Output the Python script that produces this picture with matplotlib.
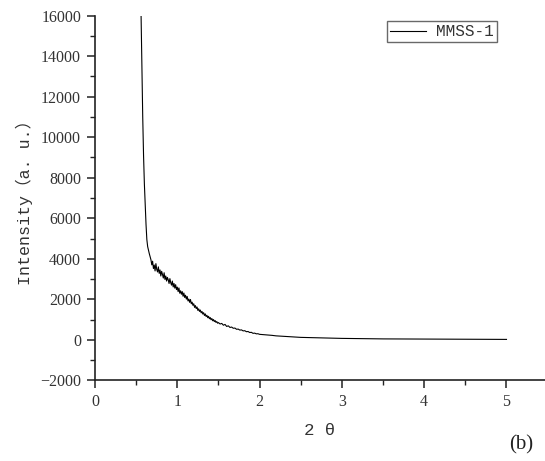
"""Small-angle XRD pattern of MMSS-1, panel (b)."""

import matplotlib

matplotlib.use("Agg")

import matplotlib.pyplot as plt  # noqa: E402
from matplotlib.ticker import MultipleLocator  # noqa: E402

# 2theta (deg) and intensity (a.u.)
two_theta = [
    0.56, 0.57, 0.58, 0.59, 0.60, 0.61, 0.62, 0.63, 0.64, 0.66,
    0.68, 0.69, 0.70, 0.71, 0.72, 0.73, 0.74, 0.75, 0.76, 0.77,
    0.78, 0.79, 0.80, 0.81, 0.82, 0.83, 0.84, 0.85, 0.86, 0.87,
    0.88, 0.89, 0.90, 0.91, 0.92, 0.93, 0.94, 0.95, 0.96, 0.97,
    0.98, 0.99, 1.00, 1.01, 1.02, 1.03, 1.04, 1.05, 1.06, 1.07,
    1.08, 1.09, 1.10, 1.11, 1.12, 1.13, 1.14, 1.15, 1.16, 1.17,
    1.18, 1.19, 1.20, 1.21, 1.22, 1.23, 1.24, 1.25, 1.26, 1.27,
    1.28, 1.29, 1.30, 1.31, 1.32, 1.33, 1.34, 1.35, 1.36, 1.37,
    1.38, 1.39, 1.40, 1.41, 1.42, 1.43, 1.44, 1.45, 1.46, 1.47,
    1.48, 1.49, 1.50, 1.52, 1.54, 1.56, 1.58, 1.60, 1.62, 1.64,
    1.66, 1.68, 1.70, 1.72, 1.74, 1.76, 1.78, 1.80, 1.82, 1.84,
    1.86, 1.88, 1.90, 1.92, 1.94, 1.96, 1.98, 2.00, 2.05, 2.10,
    2.15, 2.20, 2.30, 2.40, 2.50, 2.60, 2.70, 2.80, 3.00, 3.20,
    3.50, 4.00, 4.50, 5.00,
]
intensity = [
    16000, 13400, 11000, 9100, 7700, 6700, 5700, 4950, 4600, 4250,
    3950, 3700, 3880, 3520, 3690, 3400, 3760, 3480, 3350, 3600,
    3280, 3450, 3150, 3380, 3230, 3050, 3310, 2980, 3150, 2900,
    3080, 2960, 2780, 3020, 2820, 2700, 2900, 2610, 2780, 2550,
    2720, 2480, 2600, 2380, 2560, 2300, 2420, 2250, 2380, 2150,
    2310, 2090, 2200, 2010, 2140, 1920, 2010, 1850, 1990, 1780,
    1860, 1700, 1780, 1600, 1690, 1540, 1620, 1450, 1530, 1400,
    1470, 1330, 1400, 1270, 1340, 1200, 1280, 1150, 1210, 1090,
    1160, 1040, 1100, 990, 1050, 940, 1000, 900, 950, 860,
    900, 820, 850, 780, 810, 720, 760, 660, 690, 610,
    630, 570, 580, 520, 530, 480, 490, 440, 450, 400,
    410, 360, 370, 320, 330, 295, 300, 270, 255, 235,
    220, 195, 170, 145, 120, 110, 95, 85, 70, 60,
    45, 35, 25, 20,
]
series_label = "MMSS-1"

fig = plt.figure(figsize=(5.45, 4.61), dpi=100)
ax = fig.add_axes([0.1743, 0.175, 0.8257, 0.791])

ax.plot(two_theta, intensity, color="black", linewidth=0.8, label=series_label)

ax.set_xlim(0, 5.468)
ax.set_ylim(-2000, 16000)
ax.xaxis.set_major_locator(MultipleLocator(1))
ax.xaxis.set_minor_locator(MultipleLocator(0.5))
ax.yaxis.set_major_locator(MultipleLocator(2000))
ax.yaxis.set_minor_locator(MultipleLocator(1000))

for side in ("top", "right"):
    ax.spines[side].set_visible(False)
for side in ("left", "bottom"):
    ax.spines[side].set_linewidth(1.2)
    ax.spines[side].set_color("#222222")

ax.tick_params(which="major", direction="out", length=6, width=1.1, color="#222222")
ax.tick_params(which="minor", direction="out", length=3.5, width=1.0, color="#222222")
ax.tick_params(labelsize=11.5, labelcolor="#333333", pad=4)
for lab in ax.get_xticklabels() + ax.get_yticklabels():
    lab.set_family("Liberation Serif")

mono = ["Liberation Mono", "Noto Sans CJK SC"]
ax.set_ylabel("Intensity（a. u.）", family=mono, fontsize=12, color="#333333", labelpad=5)
ax.set_xlabel("2 θ", family=mono, fontsize=12.5, color="#333333", labelpad=9)

leg = ax.legend(
    loc="upper right",
    bbox_to_anchor=(497 / 545, 1 - 21 / 461),
    bbox_transform=fig.transFigure,
    prop={"family": "Liberation Mono", "size": 11.5},
    frameon=True,
    fancybox=False,
    handlelength=2.3,
    handletextpad=0.6,
    borderpad=0.2,
    borderaxespad=0,
)
leg.get_frame().set_edgecolor("#444444")
leg.get_frame().set_linewidth(1.0)
for t in leg.get_texts():
    t.set_color("#333333")

fig.text(521 / 545, 1 - 445 / 461, "(b)", family="Liberation Serif", fontsize=15,
         ha="center", va="center", color="#222222")

fig.savefig("out.png", dpi=100)
